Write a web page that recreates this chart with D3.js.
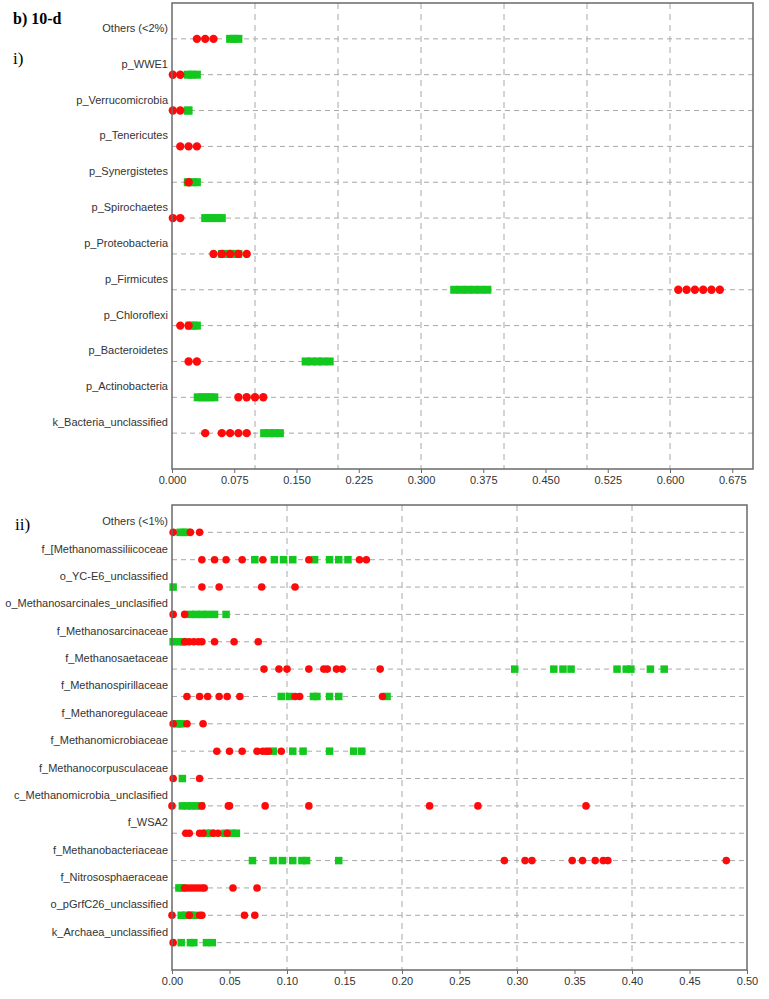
<!DOCTYPE html>
<html>
<head>
<meta charset="utf-8">
<script src="https://cdn.jsdelivr.net/npm/d3@7"></script>
<style>
  body { margin: 0; background: #fff; }
  svg { display: block; }
  .tick text { font-family: Arial, "Liberation Sans", sans-serif; font-size: 11px; fill: #333; }
</style>
</head>
<body>
<div id="chart"></div>
<script>
// Panel i) bacterial phyla
const bactCategories = [
  "Others (<2%)", "p_WWE1", "p_Verrucomicrobia", "p_Tenericutes", "p_Synergistetes",
  "p_Spirochaetes", "p_Proteobacteria", "p_Firmicutes", "p_Chloroflexi",
  "p_Bacteroidetes", "p_Actinobacteria", "k_Bacteria_unclassified"
];
const bactGreen = [
  [0.070, 0.075, 0.080],
  [0.019, 0.024, 0.030],
  [0.019, 0.020],
  [],
  [0.019, 0.025, 0.030],
  [0.040, 0.045, 0.050, 0.055, 0.060],
  [0.060, 0.065, 0.070, 0.075, 0.080],
  [0.340, 0.348, 0.356, 0.364, 0.372, 0.380],
  [0.021, 0.026, 0.030],
  [0.161, 0.168, 0.175, 0.182, 0.190],
  [0.031, 0.036, 0.041, 0.046, 0.051],
  [0.111, 0.117, 0.124, 0.130]
];
const bactRed = [
  [0.030, 0.040, 0.050],
  [0.001, 0.010],
  [0.001, 0.010],
  [0.010, 0.020, 0.030],
  [0.020],
  [0.001, 0.010],
  [0.050, 0.060, 0.070, 0.080, 0.090],
  [0.610, 0.620, 0.630, 0.640, 0.650, 0.660],
  [0.010, 0.020],
  [0.020, 0.030],
  [0.080, 0.090, 0.100, 0.110],
  [0.040, 0.060, 0.070, 0.080, 0.090]
];
const bactTicks = [0, 0.075, 0.15, 0.225, 0.3, 0.375, 0.45, 0.525, 0.6, 0.675];
const bactGrid = [0.1, 0.2, 0.3, 0.4, 0.5, 0.6];

// Panel ii) archaeal families
const archCategories = [
  "Others (<1%)", "f_[Methanomassiliicoceae", "o_YC-E6_unclassified",
  "o_Methanosarcinales_unclasified", "f_Methanosarcinaceae", "f_Methanosaetaceae",
  "f_Methanospirillaceae", "f_Methanoregulaceae", "f_Methanomicrobiaceae",
  "f_Methanocorpusculaceae", "c_Methanomicrobia_unclasified", "f_WSA2",
  "f_Methanobacteriaceae", "f_Nitrososphaeraceae", "o_pGrfC26_unclassified",
  "k_Archaea_unclassified"
];
const archGreen = [
  [0.007, 0.010, 0.013],
  [0.072, 0.089, 0.097, 0.105, 0.124, 0.137, 0.145, 0.153],
  [0.001],
  [0.016, 0.021, 0.026, 0.031, 0.037, 0.047],
  [0.001, 0.007, 0.010],
  [0.298, 0.332, 0.340, 0.347, 0.387, 0.395, 0.399, 0.416, 0.428],
  [0.095, 0.102, 0.123, 0.126, 0.137, 0.145, 0.187],
  [0.005, 0.008],
  [0.088, 0.105, 0.114, 0.137, 0.158, 0.165],
  [0.009],
  [0.009, 0.013, 0.017, 0.021, 0.025],
  [0.030, 0.034, 0.046, 0.052, 0.056],
  [0.070, 0.088, 0.096, 0.105, 0.113, 0.117, 0.145],
  [0.006, 0.009],
  [0.008, 0.012, 0.016, 0.019],
  [0.008, 0.016, 0.019, 0.030, 0.035]
];
const archRed = [
  [0.001, 0.016, 0.024],
  [0.026, 0.037, 0.047, 0.061, 0.079, 0.119, 0.163, 0.169],
  [0.026, 0.041, 0.078, 0.107],
  [0.001, 0.011],
  [0.011, 0.015, 0.019, 0.023, 0.026, 0.037, 0.054, 0.075],
  [0.080, 0.093, 0.100, 0.119, 0.132, 0.135, 0.143, 0.148, 0.181],
  [0.013, 0.024, 0.031, 0.041, 0.048, 0.059, 0.107, 0.111, 0.183],
  [0.001, 0.013, 0.027],
  [0.039, 0.050, 0.061, 0.074, 0.079, 0.082, 0.084, 0.095],
  [0.001, 0.024],
  [0.000, 0.026, 0.049, 0.050, 0.081, 0.119, 0.224, 0.266, 0.360],
  [0.012, 0.015, 0.024, 0.027, 0.036, 0.040, 0.048],
  [0.289, 0.307, 0.313, 0.348, 0.357, 0.368, 0.375, 0.379, 0.482],
  [0.011, 0.014, 0.017, 0.020, 0.023, 0.026, 0.028, 0.053, 0.074],
  [0.000, 0.015, 0.024, 0.026, 0.063, 0.072],
  [0.001]
];
const archTicks = [0, 0.05, 0.1, 0.15, 0.2, 0.25, 0.3, 0.35, 0.4, 0.45, 0.5];
const archGrid = [0.1, 0.2, 0.3, 0.4];

const colors = {
  red: "#ff0a0a",
  green: "#12c81e",
  grid: "#a8a8a8",
  frame: "#6a6a6a",
  text: "#333"
};

const width = 769, height = 999;

const svg = d3.select("#chart")
  .append("svg")
  .attr("width", width)
  .attr("height", height);

function drawPanel(cfg) {
  const x = d3.scaleLinear().domain(cfg.domain).range([cfg.left, cfg.right]);
  const y = d3.scalePoint().domain(cfg.categories).range([cfg.top, cfg.bottom]).padding(1);

  const g = svg.append("g");

  // vertical dashed grid
  g.append("g")
    .selectAll("line")
    .data(cfg.grid)
    .join("line")
    .attr("x1", (d) => x(d))
    .attr("x2", (d) => x(d))
    .attr("y1", cfg.top)
    .attr("y2", cfg.bottom)
    .attr("stroke", colors.grid)
    .attr("stroke-dasharray", "6,5");

  // horizontal dashed lines per row
  g.append("g")
    .selectAll("line")
    .data(cfg.categories)
    .join("line")
    .attr("x1", cfg.left)
    .attr("x2", cfg.right)
    .attr("y1", (d) => y(d))
    .attr("y2", (d) => y(d))
    .attr("stroke", colors.grid)
    .attr("stroke-dasharray", "5,4");

  // row labels sit above their line
  g.append("g")
    .selectAll("text")
    .data(cfg.categories)
    .join("text")
    .attr("x", cfg.left - 4)
    .attr("y", (d) => y(d) - 7)
    .attr("text-anchor", "end")
    .attr("font-family", "Arial, 'Liberation Sans', sans-serif")
    .attr("font-size", "11px")
    .attr("fill", colors.text)
    .text((d) => d);

  // green squares, then red circles on top
  const greenPts = cfg.green.flatMap((vals, i) => vals.map((v) => ({ v, c: cfg.categories[i] })));
  const redPts = cfg.red.flatMap((vals, i) => vals.map((v) => ({ v, c: cfg.categories[i] })));

  g.append("g")
    .selectAll("rect")
    .data(greenPts)
    .join("rect")
    .attr("x", (d) => x(d.v) - cfg.sq / 2)
    .attr("y", (d) => y(d.c) - cfg.sq / 2)
    .attr("width", cfg.sq)
    .attr("height", cfg.sq)
    .attr("fill", colors.green);

  g.append("g")
    .selectAll("circle")
    .data(redPts)
    .join("circle")
    .attr("cx", (d) => x(d.v))
    .attr("cy", (d) => y(d.c))
    .attr("r", cfg.r)
    .attr("fill", colors.red);

  // bottom axis
  const axis = g.append("g")
    .attr("transform", `translate(0,${cfg.bottom})`)
    .call(d3.axisBottom(x).tickValues(cfg.ticks).tickSize(4).tickPadding(3).tickFormat(d3.format(cfg.fmt)));
  axis.select(".domain").remove();
  axis.selectAll(".tick line").attr("stroke", colors.frame);

  // frame
  g.append("rect")
    .attr("x", cfg.left)
    .attr("y", cfg.top)
    .attr("width", cfg.right - cfg.left)
    .attr("height", cfg.bottom - cfg.top)
    .attr("fill", "none")
    .attr("stroke", colors.frame)
    .attr("stroke-width", 1.5);
}

drawPanel({
  categories: bactCategories, green: bactGreen, red: bactRed,
  domain: [0, 0.7], ticks: bactTicks, grid: bactGrid, fmt: ".3f",
  left: 172, right: 753, top: 3, bottom: 469, r: 4.2, sq: 8
});

drawPanel({
  categories: archCategories, green: archGreen, red: archRed,
  domain: [0, 0.5], ticks: archTicks, grid: archGrid, fmt: ".2f",
  left: 172, right: 747, top: 505, bottom: 970, r: 3.8, sq: 7.5
});

// panel captions
const serif = "'Liberation Serif', 'Times New Roman', serif";
svg.append("text").attr("x", 13).attr("y", 24)
  .attr("font-family", serif).attr("font-weight", "bold").attr("font-size", "16px")
  .text("b) 10-d");
svg.append("text").attr("x", 13).attr("y", 64)
  .attr("font-family", serif).attr("font-size", "17px")
  .text("i)");
svg.append("text").attr("x", 15).attr("y", 530)
  .attr("font-family", serif).attr("font-size", "17px")
  .text("ii)");
</script>
</body>
</html>
